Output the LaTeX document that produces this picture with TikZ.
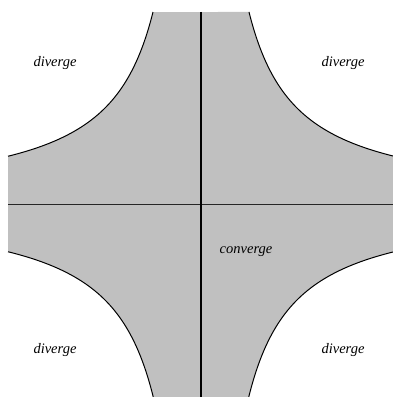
\documentclass[tikz,border=0pt]{standalone}
\usepackage{fontspec}
\setmainfont{Liberation Serif}
\definecolor{regiongray}{RGB}{192,192,192}
\begin{document}
\begin{tikzpicture}[x=1pt,y=1pt,
  boundary/.style={line width=1pt,black},
  vaxis/.style={line width=1.3pt,black},
  haxis/.style={line width=0.7pt,black!85},
  lbl/.style={font=\fontsize{14.5}{16}\selectfont\itshape,inner sep=0pt}]
\useasboundingbox (0,0) rectangle (393,397);
\begin{scope}[shift={(201,193)}]
  \fill[regiongray]
    plot[domain=-193:-48,samples=120,smooth] (\x,{-9216/\x})
    -- plot[domain=48:192,samples=120,smooth] (\x,{9216/\x})
    -- plot[domain=192:47.75,samples=120,smooth] (\x,{-9216/\x})
    -- plot[domain=-47.75:-193,samples=120,smooth] (\x,{9216/\x})
    -- cycle;
  \draw[boundary] plot[domain=-193:-48,samples=120,smooth] (\x,{-9216/\x});
  \draw[boundary] plot[domain=48:192,samples=120,smooth] (\x,{9216/\x});
  \draw[boundary] plot[domain=192:47.75,samples=120,smooth] (\x,{-9216/\x});
  \draw[boundary] plot[domain=-47.75:-193,samples=120,smooth] (\x,{9216/\x});
  \coordinate (vtop) at (0,192);
  \coordinate (vbot) at (0,-193);
  \coordinate (hleft) at (-193,0);
  \coordinate (hright) at (192,0);
  \draw[haxis] (hleft) -- (hright);
  \draw[vaxis] (vtop) -- (vbot);
\end{scope}
\node[lbl] (dtl) at (55,334) {diverge};
\node[lbl] (dtr) at (343,334) {diverge};
\node[lbl] (dbl) at (55,47) {diverge};
\node[lbl] (dbr) at (343,47) {diverge};
\node[lbl] (conv) at (246,145) {converge};
\end{tikzpicture}
\end{document}
